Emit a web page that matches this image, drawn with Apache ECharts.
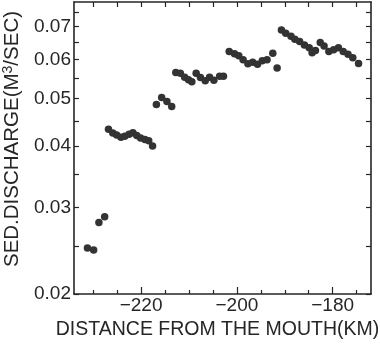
<!DOCTYPE html>
<html>
<head>
<meta charset="utf-8">
<script src="https://cdn.jsdelivr.net/npm/echarts@6/dist/echarts.min.js"></script>
<style>
  html, body { margin: 0; padding: 0; background: #ffffff; }
  #chart { width: 380px; height: 353px; }
</style>
</head>
<body>
<div id="chart"></div>
<script>
// Distance from the river mouth (km), upstream is negative
const distanceKm = [
  -231.2, -229.9, -228.8, -227.6,
  -226.8, -225.9, -225.1, -224.2, -223.4, -222.5, -221.7, -220.9, -220.1, -219.2, -218.4, -217.6,
  -216.8, -215.7, -214.6, -213.6,
  -212.75, -211.8, -210.9, -210.1, -209.4, -208.5, -207.6, -206.6, -205.7, -204.8, -203.6, -202.8,
  -201.6, -200.5, -199.6, -198.7, -197.7, -196.7, -195.7, -194.7, -193.7, -192.5, -191.6,
  -190.7, -189.8, -188.7, -187.9, -186.9, -185.9, -184.9, -184.3, -183.6, -182.6, -181.8,
  -180.8, -179.8, -178.8, -177.8, -176.8, -175.8, -174.6
];

// Sediment discharge (m^3/sec) at each distance
const discharge = [
  0.02481, 0.02458, 0.02797, 0.02874,
  0.04330, 0.04256, 0.04216, 0.04171, 0.04190, 0.04230, 0.04261, 0.04202, 0.04157, 0.04124, 0.04103, 0.04004,
  0.04864, 0.05026, 0.04933, 0.04819,
  0.05647, 0.05626, 0.05526, 0.05457, 0.05406, 0.05626, 0.05516, 0.05431, 0.05521, 0.05444, 0.05547, 0.05547,
  0.06230, 0.06164, 0.06106, 0.05993, 0.05882, 0.05923, 0.05868, 0.05965, 0.05993, 0.06178, 0.05772,
  0.06897, 0.06791, 0.06696, 0.06602, 0.06528, 0.06428, 0.06344, 0.06193, 0.06260, 0.06498, 0.06398,
  0.06230, 0.06281, 0.06344, 0.06230, 0.06155, 0.06055, 0.05890
];

// Tick positions
const xLabelTicks = [-220, -200, -180];
const xMinorTicks = [-230, -225, -215, -210, -205, -195, -190, -185, -175];
const xTopTicks = [-230, -225, -220, -215, -210, -205, -200, -195, -190, -185, -180, -175];
const yLabelTicks = [0.02, 0.03, 0.04, 0.05, 0.06, 0.07];
const yAllTicks = [0.02, 0.025, 0.03, 0.035, 0.04, 0.045, 0.05, 0.055, 0.06, 0.065, 0.07, 0.075];

const points = distanceKm.map((d, i) => [d, discharge[i]]);

const ink = '#262626';
const font = 'Liberation Sans, Arial, sans-serif';
const X_MIN = -234, X_MAX = -172;
const Y_MIN = 0.02, Y_MAX = 0.0786;

const frameLine = { show: true, lineStyle: { color: ink, width: 1.6 } };

const chart = echarts.init(document.getElementById('chart'), null, { renderer: 'canvas' });

chart.setOption({
  animation: false,
  backgroundColor: '#ffffff',
  grid: { left: 74, right: 9, top: 2, bottom: 59, containLabel: false, outerBoundsMode: 'none' },
  xAxis: [
    {
      type: 'value', position: 'bottom', min: X_MIN, max: X_MAX,
      axisLine: frameLine,
      axisTick: { show: true, inside: true, length: 7, customValues: xLabelTicks,
                  lineStyle: { color: ink, width: 1.2 } },
      axisLabel: {
        customValues: xLabelTicks, margin: 2,
        color: ink, fontFamily: font, fontSize: 19,
        formatter: v => (v < 0 ? '\u2212' : '') + Math.abs(v)
      },
      splitLine: { show: false },
      name: 'DISTANCE FROM THE MOUTH(KM)',
      nameLocation: 'middle', nameGap: 23,
      nameTextStyle: { color: ink, fontFamily: font, fontSize: 19.5, padding: [0, 10, 0, 0] }
    },
    {
      type: 'value', position: 'bottom', min: X_MIN, max: X_MAX,
      axisLine: { show: false },
      axisTick: { show: true, inside: true, length: 4, customValues: xMinorTicks,
                  lineStyle: { color: ink, width: 1.2 } },
      axisLabel: { show: false },
      splitLine: { show: false }
    },
    {
      type: 'value', position: 'top', min: X_MIN, max: X_MAX,
      axisLine: frameLine,
      axisTick: { show: true, inside: true, length: 5, customValues: xTopTicks,
                  lineStyle: { color: ink, width: 1.2 } },
      axisLabel: { show: false },
      splitLine: { show: false }
    }
  ],
  yAxis: [
    {
      type: 'log', logBase: 10, position: 'left', min: Y_MIN, max: Y_MAX,
      axisLine: frameLine,
      axisTick: { show: true, inside: true, length: 5, customValues: yAllTicks,
                  lineStyle: { color: ink, width: 1.2 } },
      axisLabel: {
        customValues: yLabelTicks, margin: 3,
        color: ink, fontFamily: font, fontSize: 19,
        formatter: v => Number(v).toFixed(2)
      },
      splitLine: { show: false },
      name: 'SED.DISCHARGE(M{sup|3}/SEC)',
      nameLocation: 'middle', nameGap: 41,
      nameTextStyle: {
        color: ink, fontFamily: font, fontSize: 20.5, padding: [0, 0, 0, 18],
        rich: { sup: { fontSize: 14, fontFamily: font, color: ink, verticalAlign: 'top', padding: [0, 0, 8, 0] } }
      }
    },
    {
      type: 'log', logBase: 10, position: 'right', min: Y_MIN, max: Y_MAX,
      axisLine: frameLine,
      axisTick: { show: true, inside: true, length: 5, customValues: yAllTicks,
                  lineStyle: { color: ink, width: 1.2 } },
      axisLabel: { show: false },
      splitLine: { show: false }
    }
  ],
  series: [
    {
      type: 'scatter',
      xAxisIndex: 0, yAxisIndex: 0,
      data: points,
      symbol: 'circle', symbolSize: 7.5,
      itemStyle: { color: '#333333', opacity: 1 }
    }
  ]
});
</script>
</body>
</html>
